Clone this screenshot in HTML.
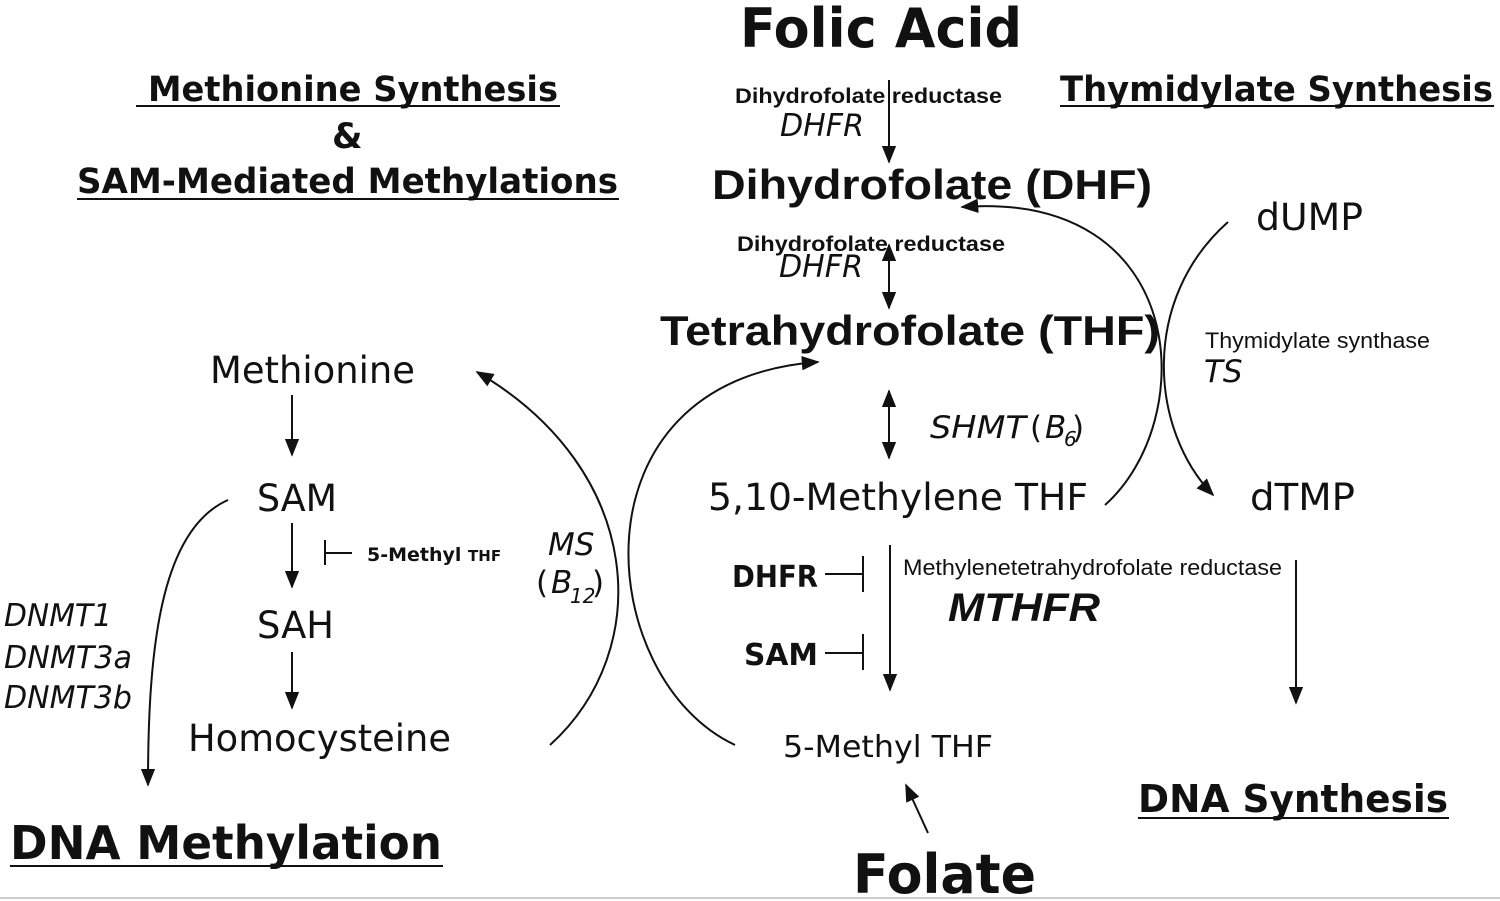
<!DOCTYPE html>
<html><head><style>body{margin:0;background:#fff}svg{display:block}.lib{font-family:"Liberation Sans",Arial,sans-serif}</style></head><body>
<svg width="1500" height="901" viewBox="0 0 1500 901" xmlns="http://www.w3.org/2000/svg" font-family="DejaVu Sans, sans-serif" fill="#111">
<defs><marker id="a" viewBox="0 0 10 10" refX="9" refY="5" markerWidth="9" markerHeight="9" orient="auto-start-reverse"><path d="M0,1 L10,5 L0,9 z" fill="#111"/></marker></defs>
<rect x="0" y="0" width="1500" height="901" fill="#fff"/>
<line x1="0" y1="898" x2="1500" y2="898" stroke="#ccc" stroke-width="2"/>
<g font-weight="bold">
<text x="740" y="47" font-size="54" textLength="282" lengthAdjust="spacingAndGlyphs">Folic Acid</text>
<text x="148" y="101" font-size="35" textLength="410" lengthAdjust="spacingAndGlyphs">Methionine Synthesis</text>
<line x1="136" y1="106" x2="560" y2="106" stroke="#111" stroke-width="2"/>
<text x="332" y="148" font-size="35">&amp;</text>
<text x="77" y="193" font-size="35" textLength="541" lengthAdjust="spacingAndGlyphs">SAM-Mediated Methylations</text>
<line x1="77" y1="199" x2="619" y2="199" stroke="#111" stroke-width="2"/>
<text x="1060" y="101" font-size="35" textLength="433" lengthAdjust="spacingAndGlyphs">Thymidylate Synthesis</text>
<line x1="1060" y1="106" x2="1494" y2="106" stroke="#111" stroke-width="2"/>
<text x="10" y="859" font-size="46" textLength="432" lengthAdjust="spacingAndGlyphs">DNA Methylation</text>
<line x1="10" y1="866" x2="443" y2="866" stroke="#111" stroke-width="2"/>
<text x="1138" y="812" font-size="38" textLength="310" lengthAdjust="spacingAndGlyphs">DNA Synthesis</text>
<line x1="1138" y1="818" x2="1449" y2="818" stroke="#111" stroke-width="2"/>
<text x="853" y="893" font-size="54" textLength="183" lengthAdjust="spacingAndGlyphs">Folate</text>
</g>
<g class="lib" style="font-family:'Liberation Sans',Arial,sans-serif" font-weight="bold">
<text x="712" y="199" font-size="42" textLength="440" lengthAdjust="spacingAndGlyphs">Dihydrofolate (DHF)</text>
<text x="660" y="345" font-size="42" textLength="500" lengthAdjust="spacingAndGlyphs">Tetrahydrofolate (THF)</text>
<text x="735" y="103" font-size="21" textLength="267" lengthAdjust="spacingAndGlyphs">Dihydrofolate reductase</text>
<text x="737" y="251" font-size="21" textLength="268" lengthAdjust="spacingAndGlyphs">Dihydrofolate reductase</text>
</g>
<g style="font-family:'Liberation Sans',Arial,sans-serif">
<text x="1205" y="348" font-size="22" textLength="225" lengthAdjust="spacingAndGlyphs">Thymidylate synthase</text>
<text x="903" y="575" font-size="22" textLength="379" lengthAdjust="spacingAndGlyphs">Methylenetetrahydrofolate reductase</text>
<text x="948" y="621" font-size="40" font-weight="bold" font-style="italic" textLength="152" lengthAdjust="spacingAndGlyphs">MTHFR</text>
</g>
<g font-style="italic" font-size="31">
<text x="780" y="136" textLength="84" lengthAdjust="spacingAndGlyphs">DHFR</text>
<text x="779" y="277" textLength="84" lengthAdjust="spacingAndGlyphs">DHFR</text>
<text x="1204" y="382">TS</text>
<text x="930" y="438" textLength="96" lengthAdjust="spacingAndGlyphs">SHMT</text>
<text x="1030" y="438" font-style="normal">(</text><text x="1045" y="438">B</text><text x="1064" y="446" font-size="20">6</text><text x="1072" y="438" font-style="normal">)</text>
<text x="548" y="555">MS</text>
<text x="536" y="593" font-style="normal">(</text><text x="551" y="593">B</text><text x="570" y="603" font-size="20">12</text><text x="592" y="593" font-style="normal">)</text>
<text x="4" y="626" textLength="108" lengthAdjust="spacingAndGlyphs">DNMT1</text>
<text x="4" y="668" textLength="128" lengthAdjust="spacingAndGlyphs">DNMT3a</text>
<text x="4" y="708" textLength="128" lengthAdjust="spacingAndGlyphs">DNMT3b</text>
</g>
<g font-size="37">
<text x="210" y="383" textLength="205" lengthAdjust="spacingAndGlyphs">Methionine</text>
<text x="257" y="511" textLength="80" lengthAdjust="spacingAndGlyphs">SAM</text>
<text x="257" y="638" textLength="77" lengthAdjust="spacingAndGlyphs">SAH</text>
<text x="188" y="751" textLength="263" lengthAdjust="spacingAndGlyphs">Homocysteine</text>
<text x="708" y="510" textLength="380" lengthAdjust="spacingAndGlyphs">5,10-Methylene THF</text>
<text x="1256" y="230" textLength="107" lengthAdjust="spacingAndGlyphs">dUMP</text>
<text x="1250" y="510" textLength="105" lengthAdjust="spacingAndGlyphs">dTMP</text>
<text x="783" y="757" font-size="30" textLength="210" lengthAdjust="spacingAndGlyphs">5-Methyl THF</text>
</g>
<g font-weight="bold">
<text x="367" y="561" font-size="19">5-Methyl <tspan font-size="15">THF</tspan></text>
<text x="732" y="587" font-size="30" textLength="86" lengthAdjust="spacingAndGlyphs">DHFR</text>
<text x="744" y="665" font-size="30" textLength="74" lengthAdjust="spacingAndGlyphs">SAM</text>
</g>
<g stroke="#111" stroke-width="2" fill="none">
<line x1="889" y1="80" x2="889" y2="162" marker-end="url(#a)"/>
<line x1="889" y1="245" x2="889" y2="308" marker-end="url(#a)" marker-start="url(#a)"/>
<line x1="889" y1="391" x2="889" y2="458" marker-end="url(#a)" marker-start="url(#a)"/>
<line x1="890" y1="545" x2="890" y2="690" marker-end="url(#a)"/>
<line x1="825" y1="574" x2="863" y2="574"/><line x1="863" y1="556" x2="863" y2="592"/>
<line x1="825" y1="653" x2="863" y2="653"/><line x1="863" y1="634" x2="863" y2="670"/>
<line x1="292" y1="395" x2="292" y2="455" marker-end="url(#a)"/>
<line x1="292" y1="523" x2="292" y2="587" marker-end="url(#a)"/>
<line x1="292" y1="652" x2="292" y2="708" marker-end="url(#a)"/>
<line x1="325" y1="540" x2="325" y2="565"/><line x1="325" y1="553" x2="352" y2="553"/>
<path d="M228,500 C160,530 148,650 148,785" marker-end="url(#a)"/>
<path d="M550,745 C655,650 645,470 477,372" marker-end="url(#a)"/>
<path d="M735,745 C595,680 565,380 818,362" marker-end="url(#a)"/>
<path d="M1105,505 C1200,420 1190,190 962,207" marker-end="url(#a)"/>
<path d="M1228,222 C1140,300 1150,430 1213,495" marker-end="url(#a)"/>
<line x1="1296" y1="560" x2="1296" y2="703" marker-end="url(#a)"/>
<line x1="928" y1="833" x2="906" y2="785" marker-end="url(#a)"/>
</g>
</svg>
</body></html>
